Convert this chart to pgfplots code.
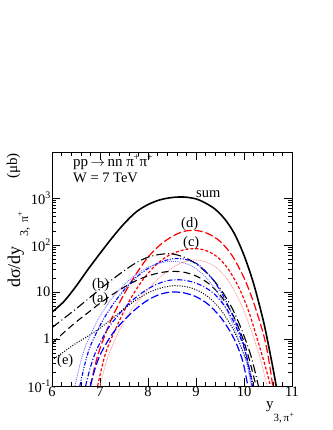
\documentclass[border=0pt]{standalone}
\usepackage{pgfplots}
\pgfplotsset{compat=1.18}
\usepackage{fontspec}
\setmainfont{Liberation Serif}
\definecolor{pinkred}{RGB}{255,140,140}
\definecolor{lightblue}{RGB}{110,110,255}
\newcommand{\sps}[1]{\raisebox{0.42em}{\fontsize{10}{10}\selectfont #1}}
\begin{document}
\fontsize{14.5}{17}\selectfont
\begin{tikzpicture}[x=1pt,y=1pt]
\path[use as bounding box] (0,0) rectangle (332,430);
\begin{axis}[
  at={(52pt,44pt)}, anchor=south west,
  scale only axis, width=240pt, height=234pt,
  xmin=6, xmax=11, ymin=0.1, ymax=9500,
  ymode=log,
  xtick={6,7,8,9,10,11},
  minor x tick num=4,
  ytick={0.1,1,10,100,1000},
  yticklabels={{10\sps{-1}},1,10,{10\sps{2}},{10\sps{3}}},
  /pgf/number format/assume math mode=true,
  tick align=inside,
  major tick length=8pt, minor tick length=4pt,
  tick style={black, line width=0.6pt},
  axis line style={line width=0.9pt},
  xticklabel style={inner sep=1pt, font=\fontsize{14.5}{17}\selectfont},
  yticklabel style={inner sep=1.5pt, font=\fontsize{14.5}{17}\selectfont},
  every axis plot/.append style={smooth, tension=0.5, no markers},
  clip=true,
]
% sum
\addplot[black, line width=1.6pt] coordinates {(6.0,3.72) (6.25,6.31) (6.5,13.2) (6.75,30.2) (7.0,66.1) (7.25,141) (7.5,282) (7.75,501) (8.0,724) (8.25,912) (8.5,1023) (8.75,1047) (9.0,955) (9.2,776) (9.4,575) (9.6,355) (9.8,174) (10.0,60.3) (10.2,15.1) (10.4,2.51) (10.5,0.83) (10.6,0.25) (10.68,0.089)};
% (d) red long dash
\addplot[red, line width=1.2pt, dash pattern=on 8pt off 3pt] coordinates {(6.8,0.1) (6.9,0.28) (7.0,0.63) (7.25,2.82) (7.5,8.91) (7.75,24.0) (8.0,55) (8.25,100) (8.5,151) (8.75,195) (9.0,204) (9.25,174) (9.5,120) (9.75,60) (10.0,20) (10.2,6.0) (10.4,1.32) (10.5,0.45) (10.6,0.1)};
% (c) red short dash
\addplot[red, line width=1.2pt, dash pattern=on 3pt off 2pt] coordinates {(6.95,0.1) (7.05,0.28) (7.15,0.63) (7.4,2.4) (7.65,7.6) (7.9,18.6) (8.15,36.3) (8.4,57.5) (8.65,74.1) (8.9,83.2) (9.15,79.4) (9.4,60.3) (9.65,33.1) (9.9,12.0) (10.1,3.8) (10.3,0.83) (10.45,0.25) (10.55,0.1)};
% pink thin
\addplot[pinkred, line width=0.7pt, dash pattern=on 1pt off 0.8pt] coordinates {(7.0,0.1) (7.1,0.25) (7.2,0.52) (7.45,1.9) (7.7,4.8) (7.95,10) (8.2,18.6) (8.45,30.2) (8.7,41.7) (8.95,47.9) (9.2,43.7) (9.45,31.6) (9.7,15.8) (9.95,5.2) (10.15,1.51) (10.35,0.35) (10.48,0.1)};
% (b) black dash-dot
\addplot[black, line width=1.1pt, dash pattern=on 9pt off 3pt on 1pt off 3pt] coordinates {(6.0,1.74) (6.25,2.75) (6.5,4.37) (6.75,7.08) (7.0,11.5) (7.25,18.2) (7.5,28.2) (7.75,41.7) (8.0,55) (8.25,63.1) (8.5,64.6) (8.75,55) (9.0,39.8) (9.25,24) (9.5,12) (9.75,4.57) (9.95,1.58) (10.15,0.42) (10.3,0.1)};
% (a) black long dash
\addplot[black, line width=1.1pt, dash pattern=on 7pt off 4pt] coordinates {(6.0,0.81) (6.25,1.38) (6.5,2.29) (6.75,3.63) (7.0,5.75) (7.25,8.71) (7.5,12.6) (7.75,17.4) (8.0,21.9) (8.25,25.7) (8.5,27.5) (8.75,26.3) (9.0,21.9) (9.25,15.5) (9.5,8.71) (9.75,3.55) (9.95,1.2) (10.1,0.4) (10.25,0.1)};
% (e) black dotted
\addplot[black, line width=1.0pt, dash pattern=on 1pt off 1.5pt] coordinates {(6.0,0.355) (6.25,0.537) (6.5,0.81) (6.75,1.15) (7.0,1.70) (7.25,2.69) (7.5,4.37) (7.75,6.76) (8.0,9.55) (8.25,12.0) (8.5,13.5) (8.75,13.2) (9.0,11.2) (9.25,7.94) (9.5,4.37) (9.75,1.78) (9.95,0.63) (10.1,0.25) (10.2,0.1)};
% blue dash-dot-dot
\addplot[blue, line width=1.1pt, dash pattern=on 4pt off 1.5pt on 1pt off 1.5pt on 1pt off 1.5pt] coordinates {(6.58,0.1) (6.68,0.28) (6.8,0.71) (7.05,2.4) (7.3,6.0) (7.55,12.6) (7.8,22.4) (8.05,33.9) (8.3,44.7) (8.55,51.3) (8.8,49) (9.05,38) (9.3,21.4) (9.55,8.9) (9.8,2.63) (10.0,0.71) (10.17,0.1)};
% light blue dotted
\addplot[lightblue, line width=0.8pt, dash pattern=on 1pt off 1pt] coordinates {(6.48,0.1) (6.58,0.28) (6.7,0.71) (6.95,2.51) (7.2,6.31) (7.45,12.6) (7.7,21.4) (7.95,31.6) (8.2,39.8) (8.45,44.7) (8.7,42.7) (8.95,33.9) (9.2,20.9) (9.45,9.55) (9.7,3.02) (9.9,0.89) (10.05,0.32) (10.15,0.1)};
% blue dash-dot
\addplot[blue, line width=1.1pt, dash pattern=on 5pt off 2pt on 1pt off 2pt] coordinates {(6.7,0.1) (6.8,0.25) (6.92,0.56) (7.15,1.58) (7.4,3.39) (7.65,6.31) (7.9,10) (8.15,14.1) (8.4,17.4) (8.65,18.2) (8.9,16.6) (9.15,13.2) (9.4,8.71) (9.65,4.17) (9.85,1.66) (10.05,0.45) (10.18,0.1)};
% blue long dash
\addplot[blue, line width=1.2pt, dash pattern=on 8pt off 3pt] coordinates {(6.8,0.1) (6.9,0.24) (7.02,0.5) (7.25,1.26) (7.5,2.51) (7.75,4.37) (8.0,6.76) (8.25,8.91) (8.5,10) (8.75,9.55) (9.0,7.94) (9.25,5.5) (9.5,3.02) (9.7,1.51) (9.85,0.76) (9.98,0.32) (10.08,0.1)};
\end{axis}
% texts
\node[anchor=base west, inner sep=0] at (73,263) {\fontsize{15}{18}\selectfont pp\,$\rightarrow$\,nn π\sps{+}π\sps{+}};
\node[anchor=base west, inner sep=0] at (73,247) {W = 7 TeV};
\node[anchor=base west, inner sep=0] at (196,232) {sum};
\node[anchor=base west, inner sep=0] at (181,202) {(d)};
\node[anchor=base west, inner sep=0] at (183,183) {(c)};
\node[anchor=base west, inner sep=0] at (92,141) {(b)};
\node[anchor=base west, inner sep=0] at (92,127) {(a)};
\node[anchor=base west, inner sep=0] at (57,65) {(e)};
% y label pieces
\node[anchor=base west, inner sep=0, rotate=90] at (20,142) {\fontsize{18}{20}\selectfont dσ/dy};
\node[anchor=base west, inner sep=0, rotate=90] at (28,193) {\fontsize{12}{14}\selectfont 3,\, π\raisebox{0.42em}{\fontsize{8.5}{9}\selectfont +}};
\node[anchor=base east, inner sep=0, rotate=90] at (17,277) {\fontsize{15}{18}\selectfont (μb)};
% x label
\node[anchor=base east, inner sep=0] at (294,21) {\fontsize{15}{18}\selectfont y\raisebox{-13pt}{\fontsize{11}{12}\selectfont 3,\,π\raisebox{0.42em}{\fontsize{8}{9}\selectfont +}}};
\end{tikzpicture}
\end{document}
